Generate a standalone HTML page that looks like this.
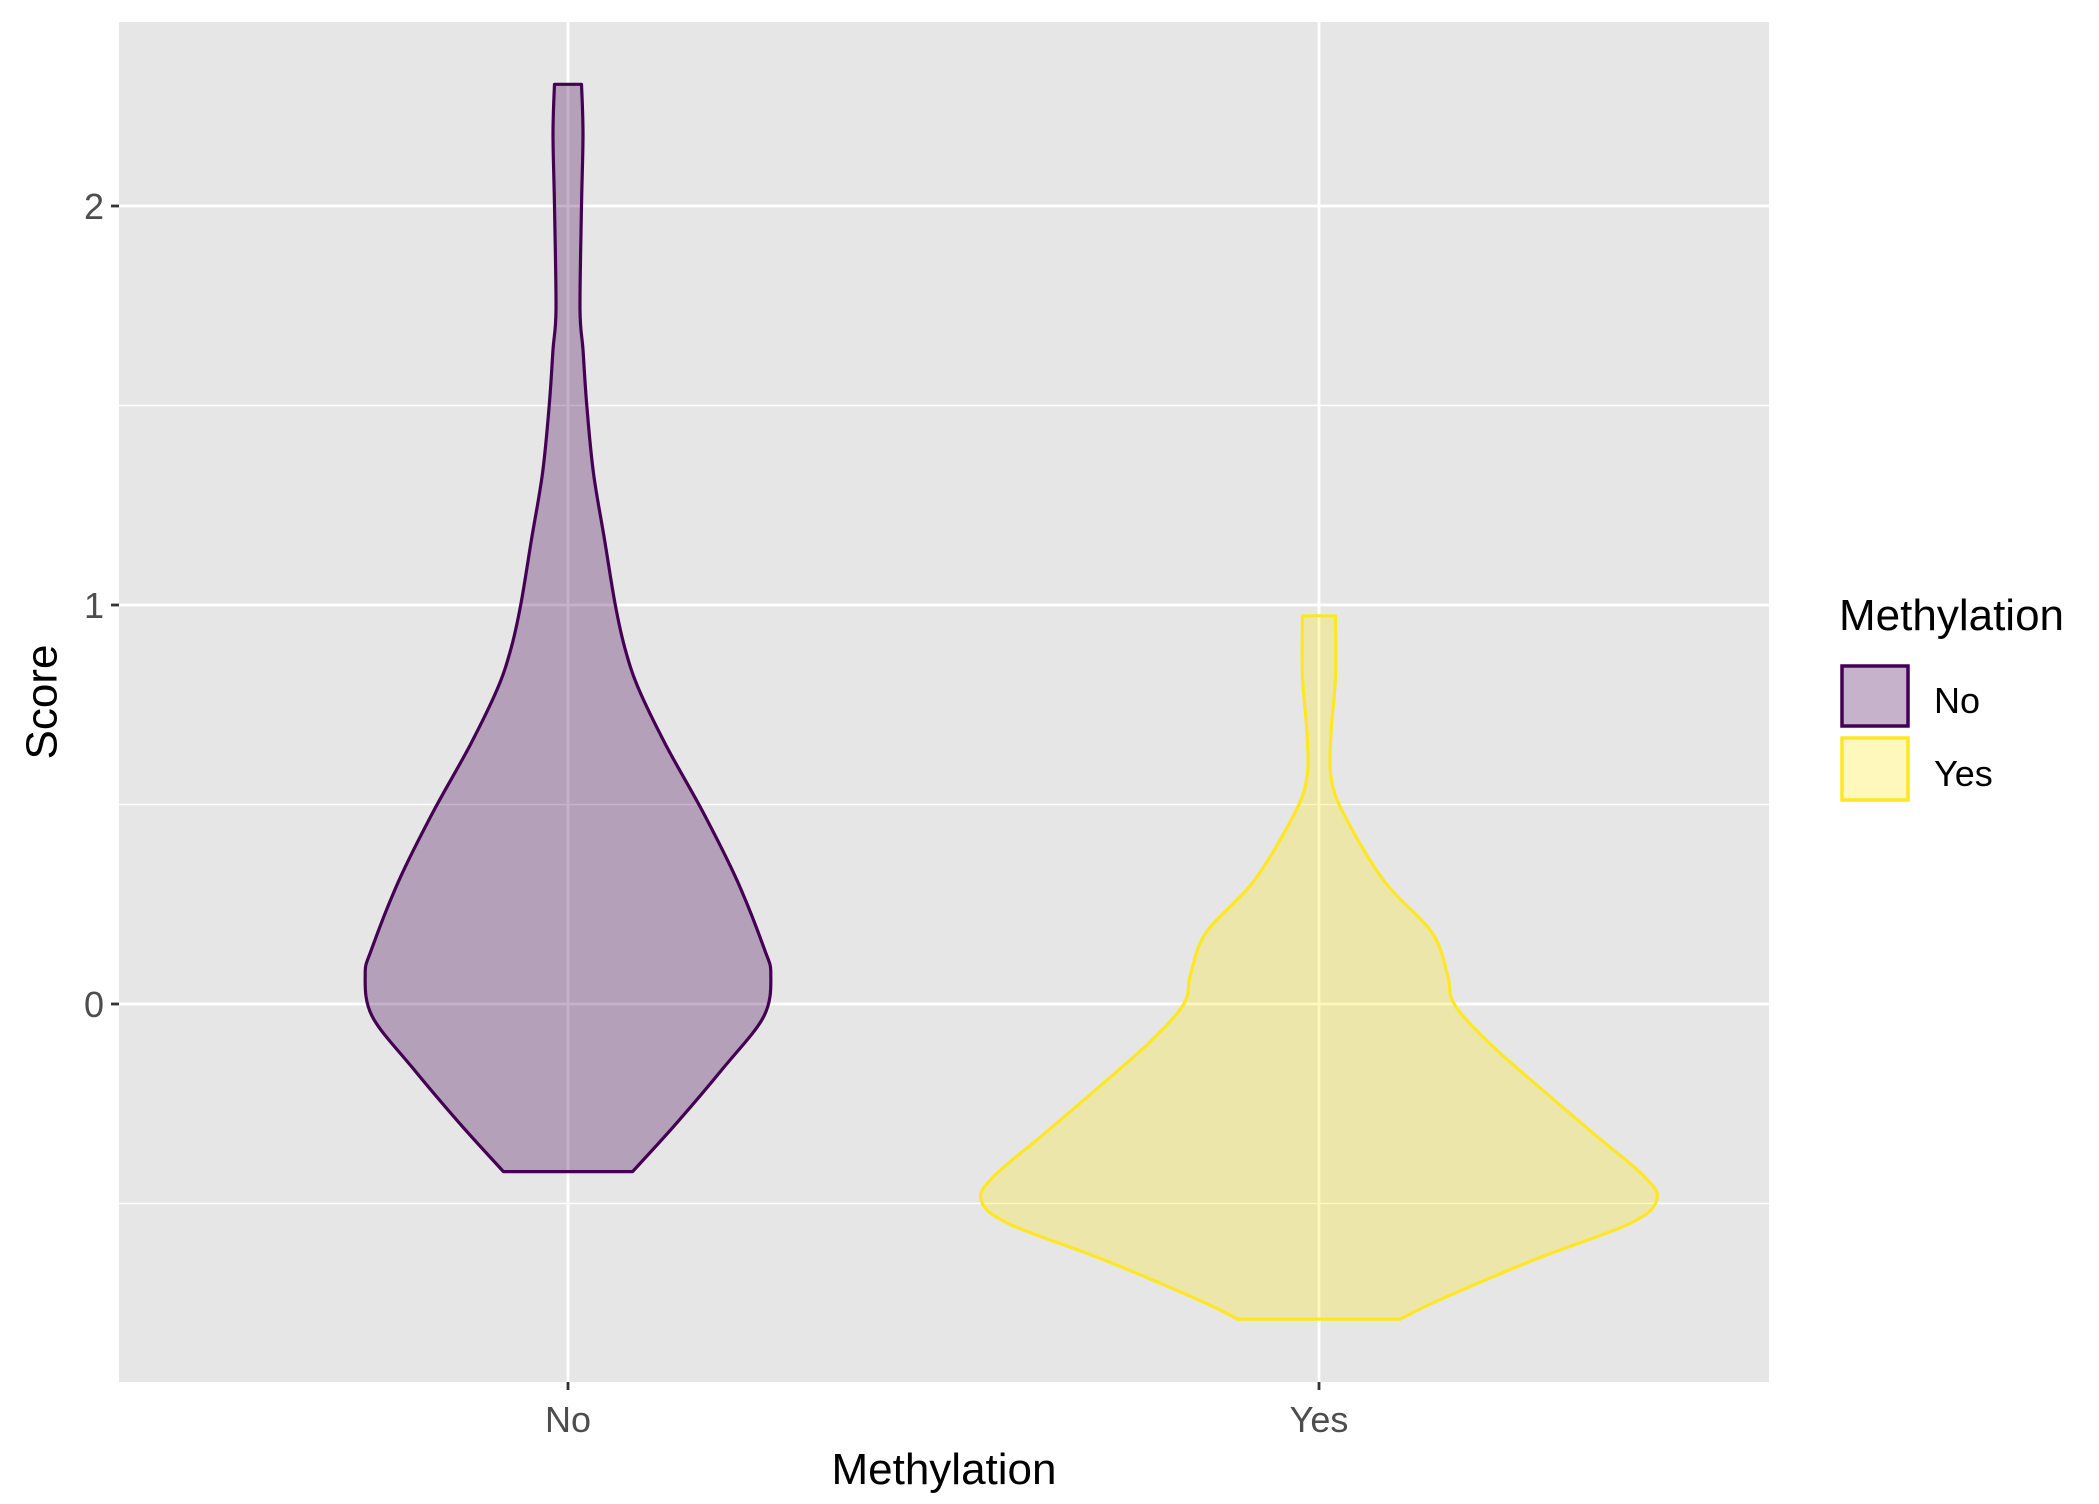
<!DOCTYPE html>
<html><head><meta charset="utf-8"><style>
body{margin:0;background:#fff}
svg text{font-family:"Liberation Sans",Arial,sans-serif}
</style></head><body>
<svg id="chart" width="2099" height="1499" xmlns="http://www.w3.org/2000/svg">
<rect x="0" y="0" width="2099" height="1499" fill="#fff"/>
<rect x="119" y="22" width="1650" height="1360" fill="#E6E6E6"/>
<g id="grid"></g>
<g id="violins"></g>
<g id="axes"></g>
<text x="42" y="702" font-size="44" fill="#000" text-anchor="middle" transform="rotate(-90 42 702)" dominant-baseline="central">Score</text>
<text x="944" y="1484" font-size="44" fill="#000" text-anchor="middle">Methylation</text>
<g>
<text x="1839" y="630" font-size="44" fill="#000">Methylation</text>
<rect x="1842" y="666" width="66" height="60" fill="#440154" fill-opacity="0.3" stroke="#440154" stroke-width="3.5"/>
<text x="1934" y="713" font-size="36" fill="#000">No</text>
<rect x="1842" y="738" width="66" height="62" fill="#FDE725" fill-opacity="0.3" stroke="#FDE725" stroke-width="3.5"/>
<text x="1934" y="786" font-size="36" fill="#000">Yes</text>
</g>
</svg>
<script>
const categories = ["No", "Yes"];
const colors = ["#440154", "#FDE725"];
const noScores = [2.305,2.18,2.0,1.74,1.64,1.50,1.33,1.16,1.0,0.89,0.79,0.65,0.48,0.31,0.14,0.075,-0.03,-0.16,-0.30,-0.42];
const noWidths = [0.018,0.020,0.018,0.016,0.020,0.025,0.034,0.049,0.063,0.076,0.094,0.130,0.180,0.225,0.261,0.270,0.261,0.207,0.144,0.086];
const yesScores = [0.973,0.82,0.68,0.57,0.48,0.31,0.18,0.075,0,-0.095,-0.20,-0.33,-0.43,-0.49,-0.55,-0.64,-0.74,-0.79];
const yesWidths = [0.022,0.022,0.016,0.016,0.032,0.086,0.150,0.171,0.180,0.225,0.288,0.369,0.432,0.450,0.414,0.288,0.162,0.108];
const yMajor = [0,1,2];
const yMinor = [-0.5,0.5,1.5];
const yTickLabels = ["0","1","2"];

const NS="http://www.w3.org/2000/svg";
const panel={l:119,r:1769,t:22,b:1382};
function yScale(v){return 1004-399*v;}
function xScale(i){return 568+751*i;}
function wScale(w){return 751*w;}
function mk(tag,attrs,parent){const e=document.createElementNS(NS,tag);for(const k in attrs)e.setAttribute(k,attrs[k]);parent.appendChild(e);return e;}
function spline(pts){
  let d='M'+pts[0][0].toFixed(1)+','+pts[0][1].toFixed(1);
  for(let i=0;i<pts.length-1;i++){
    const p0=pts[Math.max(0,i-1)],p1=pts[i],p2=pts[i+1],p3=pts[Math.min(pts.length-1,i+2)];
    const c1=[p1[0]+(p2[0]-p0[0])/6,p1[1]+(p2[1]-p0[1])/6];
    const c2=[p2[0]-(p3[0]-p1[0])/6,p2[1]-(p3[1]-p1[1])/6];
    d+='C'+c1[0].toFixed(1)+','+c1[1].toFixed(1)+' '+c2[0].toFixed(1)+','+c2[1].toFixed(1)+' '+p2[0].toFixed(1)+','+p2[1].toFixed(1);
  }
  return d;
}

const grid=document.getElementById('grid');
yMinor.forEach(v=>{
  const l=mk('line',{x1:panel.l,x2:panel.r,y1:yScale(v),y2:yScale(v),stroke:'#fff','stroke-width':1.4},grid);
  
  
});
yMajor.forEach(v=>{
  const l=mk('line',{x1:panel.l,x2:panel.r,y1:yScale(v),y2:yScale(v),stroke:'#fff','stroke-width':2.8},grid);
  
  
});
categories.forEach((c,i)=>{
  const l=mk('line',{x1:xScale(i),x2:xScale(i),y1:panel.t,y2:panel.b,stroke:'#fff','stroke-width':2.8},grid);
  
  
});

const vg=document.getElementById('violins');
const series=[[noScores,noWidths],[yesScores,yesWidths]];
series.forEach((s,i)=>{
  const [sc,wd]=s; const cx=xScale(i);
  const right=sc.map((v,k)=>[cx+wScale(wd[k]),yScale(v)]);
  const left=sc.map((v,k)=>[cx-wScale(wd[k]),yScale(v)]).reverse();
  const r=spline(right);
  const l=spline(left).replace(/^M/,'L');
  const d=r+l+'Z';
  const p=mk('path',{d:d,fill:colors[i],'fill-opacity':0.3,stroke:colors[i],'stroke-width':3.2,'stroke-linejoin':'round'},vg);
  
  
});

const ax=document.getElementById('axes');
yMajor.forEach((v,k)=>{
  const t=mk('line',{x1:panel.l-8,x2:panel.l,y1:yScale(v),y2:yScale(v),stroke:'#333','stroke-width':2.8},ax);
  
  
  const tx=mk('text',{x:panel.l-15,y:yScale(v)+13,'font-size':36,fill:'#4D4D4D','text-anchor':'end'},ax);
  tx.textContent=yTickLabels[k];
  
  
});
categories.forEach((c,i)=>{
  const t=mk('line',{x1:xScale(i),x2:xScale(i),y1:panel.b,y2:panel.b+8,stroke:'#333','stroke-width':2.8},ax);
  
  
  const tx=mk('text',{x:xScale(i),y:panel.b+50,'font-size':36,fill:'#4D4D4D','text-anchor':'middle'},ax);
  tx.textContent=c;
  
  
});
</script>
</body></html>
